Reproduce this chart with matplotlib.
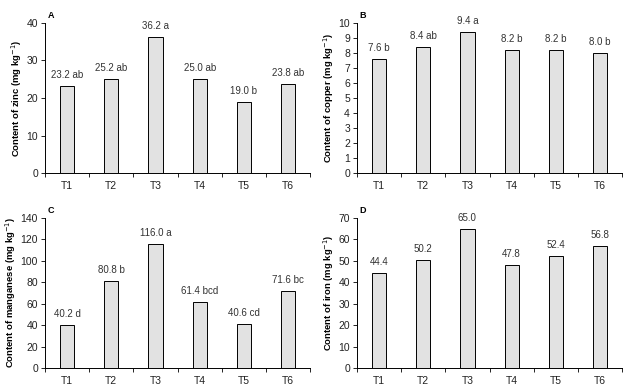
import numpy as np
import matplotlib.pyplot as plt

plt.rcParams['font.family'] = ['Liberation Sans Narrow', 'Liberation Sans', 'DejaVu Sans']

treatments = ['T1', 'T2', 'T3', 'T4', 'T5', 'T6']

zinc = [23.2, 25.2, 36.2, 25.0, 19.0, 23.8]
zinc_labels = ['23.2 ab', '25.2 ab', '36.2 a', '25.0 ab', '19.0 b', '23.8 ab']

copper = [7.6, 8.4, 9.4, 8.2, 8.2, 8.0]
copper_labels = ['7.6 b', '8.4 ab', '9.4 a', '8.2 b', '8.2 b', '8.0 b']

manganese = [40.2, 80.8, 116.0, 61.4, 40.6, 71.6]
manganese_labels = ['40.2 d', '80.8 b', '116.0 a', '61.4 bcd', '40.6 cd', '71.6 bc']

iron = [44.4, 50.2, 65.0, 47.8, 52.4, 56.8]
iron_labels = ['44.4', '50.2', '65.0', '47.8', '52.4', '56.8']


def drawPanel(ax, values, labels, ylabel, letter, ymax, ystep):
    x = np.arange(len(treatments))
    ax.bar(x, values, width=0.32, color='#e2e2e2', edgecolor='black', linewidth=0.7)
    off = ymax * 0.04
    for xi, v, t in zip(x, values, labels):
        ax.text(xi, v + off, t, ha='center', va='bottom', fontsize=7, color='#333333')

    ax.set_xlim(-0.5, len(treatments) - 0.5)
    ax.set_ylim(0, ymax)
    ax.set_yticks(np.arange(0, ymax + ystep / 2, ystep))
    # category ticks sit between bars, labels centred under bars
    ax.set_xticks(np.arange(-0.5, len(treatments), 1.0))
    ax.set_xticklabels([])
    ax.set_xticks(x, minor=True)
    ax.set_xticklabels(treatments, minor=True)
    ax.tick_params(axis='x', which='minor', length=0, labelsize=7.5, pad=6, labelcolor='#222222')
    ax.tick_params(axis='x', which='major', length=3, width=0.6, direction='out')
    ax.tick_params(axis='y', length=3, width=0.6, direction='out', labelsize=7.5, pad=2,
                   labelcolor='#222222')

    for s in ['top', 'right']:
        ax.spines[s].set_visible(False)
    for s in ['left', 'bottom']:
        ax.spines[s].set_linewidth(0.7)

    ax.set_ylabel(ylabel, fontsize=6.8, fontweight='bold', labelpad=1.5)
    ax.text(0.01, 1.02, letter, transform=ax.transAxes, fontsize=6.5,
            fontweight='bold', ha='left', va='bottom')


fig = plt.figure(figsize=(6.24, 3.89), dpi=100)

axA = fig.add_axes([0.072, 0.555, 0.425, 0.386])
axB = fig.add_axes([0.572, 0.555, 0.425, 0.386])
axC = fig.add_axes([0.072, 0.054, 0.425, 0.386])
axD = fig.add_axes([0.572, 0.054, 0.425, 0.386])

drawPanel(axA, zinc, zinc_labels, 'Content of zinc (mg kg$^{-1}$)', 'A', 40, 10)
drawPanel(axB, copper, copper_labels, 'Content of copper (mg kg$^{-1}$)', 'B', 10, 1)
drawPanel(axC, manganese, manganese_labels, 'Content of manganese (mg kg$^{-1}$)', 'C', 140, 20)
drawPanel(axD, iron, iron_labels, 'Content of iron (mg kg$^{-1}$)', 'D', 70, 10)

fig.savefig('out.png', dpi=100)
